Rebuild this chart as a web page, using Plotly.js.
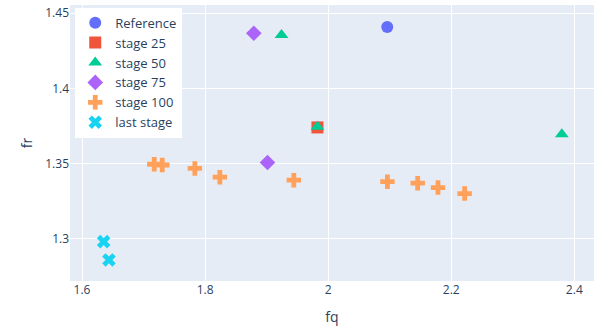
<!DOCTYPE html>
<html>
<head>
<meta charset="utf-8">
<script src="https://cdn.plot.ly/plotly-3.0.1.min.js"></script>
<style>html,body{margin:0;padding:0;background:#fff;}#chart{width:594px;height:329px;}</style>
</head>
<body>
<div id="chart"></div>
<script>
const refFq = [2.096];
const refFr = [1.4409];
const s25Fq = [1.9826];
const s25Fr = [1.374];
const s50Fq = [1.9242, 1.9826, 2.3797];
const s50Fr = [1.4355, 1.3745, 1.3695];
const s75Fq = [1.8792, 1.9014];
const s75Fr = [1.4367, 1.3507];
const s100Fq = [1.7174, 1.7304, 1.7834, 1.824, 1.9442, 2.0963, 2.1455, 2.1785, 2.2218];
const s100Fr = [1.3495, 1.349, 1.3467, 1.3409, 1.3389, 1.3379, 1.3369, 1.334, 1.33];
const lastFq = [1.6352, 1.6438];
const lastFr = [1.298, 1.2858];

function tr(name, x, y, sym, color) {
  return {type: 'scatter', mode: 'markers', name: name, x: x, y: y,
    marker: {symbol: sym, size: 12, color: color}};
}
const data = [
  tr('Reference', refFq, refFr, 'circle', '#636efa'),
  tr('stage 25', s25Fq, s25Fr, 'square', '#EF553B'),
  tr('stage 50', s50Fq, s50Fr, 'triangle-up', '#00cc96'),
  tr('stage 75', s75Fq, s75Fr, 'diamond', '#ab63fa'),
  tr('stage 100', s100Fq, s100Fr, 'cross', '#FFA15A'),
  tr('last stage', lastFq, lastFr, 'x', '#19d3f3')
];
const layout = {
  width: 594, height: 329,
  margin: {l: 70, r: 0, t: 5, b: 48},
  paper_bgcolor: '#fff', plot_bgcolor: '#E5ECF6',
  font: {family: '"Open Sans", verdana, arial, sans-serif', size: 12, color: '#2a3f5f'},
  xaxis: {range: [1.5805, 2.432], gridcolor: '#fff', zeroline: false, showline: false,
    tickvals: [1.6, 1.8, 2, 2.2, 2.4], ticktext: ['1.6', '1.8', '2', '2.2', '2.4'],
    title: {text: 'fq', standoff: 15}},
  yaxis: {range: [1.2718, 1.4555], gridcolor: '#fff', zeroline: false, showline: false,
    tickvals: [1.3, 1.35, 1.4, 1.45], ticktext: ['1.3', '1.35', '1.4', '1.45'],
    title: {text: 'fr'}},
  legend: {x: 0.01, y: 0.99, xanchor: 'left', yanchor: 'top', bgcolor: '#fff', font: {size: 13}},
  showlegend: true
};
Plotly.newPlot('chart', data, layout, {displayModeBar: false, staticPlot: true});
</script>
</body>
</html>
